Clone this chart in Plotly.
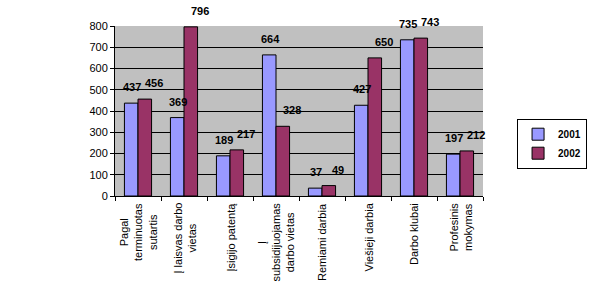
import plotly.graph_objects as go

categories = ["Pagal<br>terminuotas<br>sutartis", "Į laisvas darbo<br>vietas", "Įsigijo patentą",
              "Į<br>subsidijuojamas<br>darbo vietas", "Remiami darbia", "Viešieji darbia",
              "Darbo klubai", "Profesinis<br>mokymas"]
y2001 = [437, 369, 189, 664, 37, 427, 735, 197]
y2002 = [456, 796, 217, 328, 49, 650, 743, 212]
yticks = [0, 100, 200, 300, 400, 500, 600, 700, 800]

BARGAP = 0.41
xs = list(range(len(categories)))
bw = (1 - BARGAP) / 2

fig = go.Figure()
fig.add_trace(go.Bar(x=xs, y=y2001, name="2001",
                     marker=dict(color="#9999FF", line=dict(color="black", width=1))))
fig.add_trace(go.Bar(x=xs, y=y2002, name="2002",
                     marker=dict(color="#993366", line=dict(color="black", width=1))))

annotations = []
for i, c in enumerate(categories):
    annotations.append(dict(x=i, y=0, xref="x", yref="paper", yanchor="top", xanchor="center",
                            yshift=-5, text=c, textangle=-90, showarrow=False, align="center",
                            font=dict(family="Liberation Sans", size=11, color="black")))
lblfont = dict(family="Liberation Sans", size=11, color="black", weight="bold")
for i in xs:
    annotations.append(dict(x=i - bw / 2, y=y2001[i], xref="x", yref="y", yanchor="bottom",
                            xanchor="center", yshift=8, xshift=1, text=str(y2001[i]),
                            showarrow=False, font=lblfont))
    annotations.append(dict(x=i + bw / 2, y=y2002[i], xref="x", yref="y", yanchor="bottom",
                            xanchor="center", yshift=8, xshift=9, text=str(y2002[i]),
                            showarrow=False, font=lblfont))

fig.update_layout(
    width=596, height=286,
    margin=dict(l=115, r=113, t=26, b=90),
    paper_bgcolor="white", plot_bgcolor="#C0C0C0",
    barmode="group", bargap=BARGAP, bargroupgap=0,
    xaxis=dict(range=[-0.5, 7.5], tickmode="array", tickvals=[i - 0.5 for i in range(9)],
               showticklabels=False, ticks="outside", ticklen=4, tickcolor="black",
               showline=True, linecolor="black", showgrid=False, zeroline=False),
    yaxis=dict(range=[0, 800], tickvals=yticks, ticks="outside", ticklen=4, tickcolor="black",
               showline=True, linecolor="black", gridcolor="black", gridwidth=1, zeroline=False,
               tickfont=dict(family="Liberation Sans", size=11, color="black")),
    legend=dict(xref="container", yref="container", x=0.985, y=0.585, xanchor="right", yanchor="top",
                bordercolor="black", borderwidth=1, bgcolor="white",
                font=dict(family="Liberation Sans", size=10, color="black", weight="bold"),
                itemwidth=30, tracegroupgap=2),
    annotations=annotations,
    showlegend=True,
)
fig.write_html("out.html")
